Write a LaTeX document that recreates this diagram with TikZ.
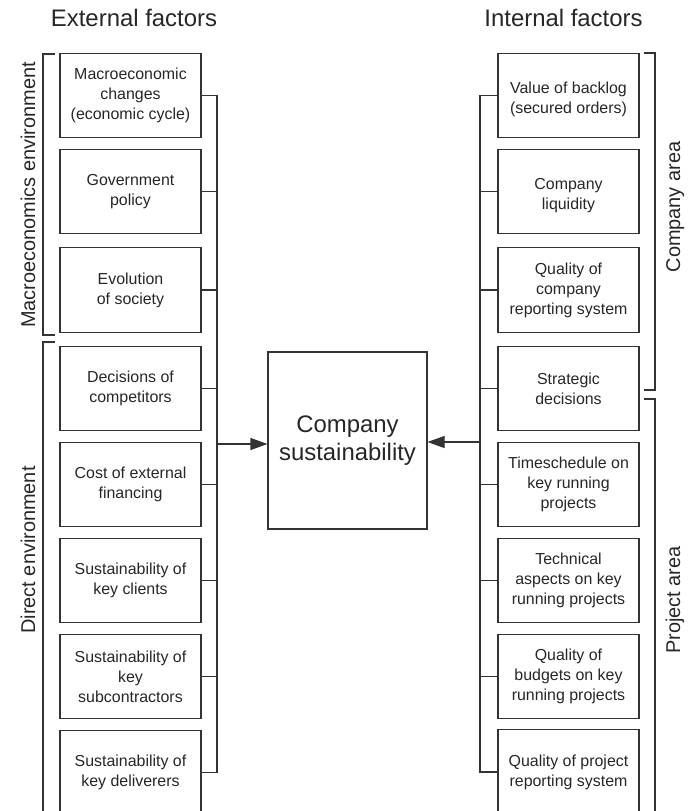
\documentclass[tikz,border=0pt]{standalone}
\usepackage{fontspec}
\setmainfont{Liberation Sans}
\usetikzlibrary{arrows.meta}

\begin{document}
\begin{tikzpicture}[x=1bp, y=-1bp,
        factor/.style={draw=black!80, line width=1.1bp, align=center, minimum width=141bp, minimum height=84.5bp, inner sep=2bp, text=black!85, font=\fontsize{16}{20}\selectfont},
        core/.style={draw=black!80, line width=1.1bp, align=center, minimum width=159bp, minimum height=177bp, text=black!85, font=\fontsize{24}{28}\selectfont},
        wire/.style={draw=black!80, line width=1.1bp},
        bus/.style={wire, line cap=rect},
        feed/.style={wire, -{Triangle[length=17bp, width=12bp]}},
        head/.style={anchor=base, text=black!85, font=\fontsize{24}{28}\selectfont},
        side/.style={anchor=base, rotate=90, text=black!85, font=\fontsize{20}{24}\selectfont}]
        \useasboundingbox (0, 0) rectangle (692, 811);
        % titles
        \node[head] (exthead) at (134, 26.7) {External factors};
        \node[head] (inthead) at (563.5, 26.7) {Internal factors};
        % external factors
        \node[factor] (ext1) at (130.5, 95.5) {Macroeconomic\\changes\\(economic cycle)};
        \node[factor] (ext2) at (130.5, 191.5) {Government\\policy};
        \node[factor] (ext3) at (130.5, 290) {Evolution\\of society};
        \node[factor] (ext4) at (130.5, 388.5) {Decisions of\\competitors};
        \node[factor] (ext5) at (130.5, 484.5) {Cost of external\\financing};
        \node[factor] (ext6) at (130.5, 580.5) {Sustainability of\\key clients};
        \node[factor] (ext7) at (130.5, 676.5) {Sustainability of\\key\\subcontractors};
        \node[factor] (ext8) at (130.5, 772.5) {Sustainability of\\key deliverers};
        % internal factors
        \node[factor] (int1) at (568.5, 95.5) {\mbox{}\\Value of backlog\\(secured orders)};
        \node[factor] (int2) at (568.5, 191.5) {\mbox{}\\Company\\liquidity};
        \node[factor] (int3) at (568.5, 290) {Quality of\\company\\reporting system};
        \node[factor] (int4) at (568.5, 388.5) {Strategic\\decisions};
        \node[factor] (int5) at (568.5, 484.5) {Timeschedule on\\key running\\projects};
        \node[factor] (int6) at (568.5, 580.5) {Technical\\aspects on key\\running projects};
        \node[factor] (int7) at (568.5, 676.5) {Quality of\\budgets on key\\running projects};
        \node[factor] (int8) at (568.5, 772) {Quality of project\\reporting system};
        % centre
        \node[core] (core) at (347.5, 440.5) {Company\\sustainability};
        \coordinate (lbus) at (217, 444);
        \coordinate (rbus) at (480, 442);
        % buses
        \draw[bus] (ext1.east -| lbus) -- (ext8.east -| lbus);
        \draw[bus] (int1.west -| rbus) -- (int8.west -| rbus);
        \foreach \i in {1,...,8} {
            \draw[bus] (ext\i.east) -- (ext\i.east -| lbus);
            \draw[bus] (int\i.west) -- (int\i.west -| rbus);
        }
        \draw[feed] (lbus) -- (lbus -| core.west);
        \draw[feed] (rbus) -- (rbus -| core.east);
        % brackets
        \draw[wire] (55, 54) -- (43, 54) -- (43, 335) -- (55, 335);
        \draw[wire] (55, 342) -- (43, 342) -- (43, 815);
        \draw[wire] (644, 53) -- (655, 53) -- (655, 390) -- (644, 390);
        \draw[wire] (644, 399) -- (655, 399) -- (655, 815);
        \node[side] (macrolab) at (35, 195) {Macroeconomics environment};
        \node[side] (directlab) at (35, 550) {Direct environment};
        \node[side] (companylab) at (680, 207) {Company area};
        \node[side] (projectlab) at (680, 600) {Project area};
    \end{tikzpicture}
\end{document}
